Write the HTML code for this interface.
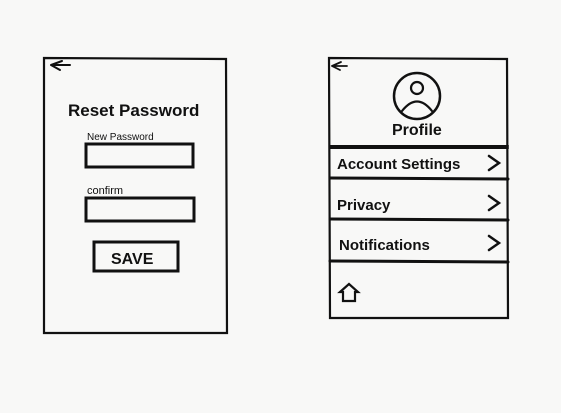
<!DOCTYPE html>
<html><head><style>
html,body{margin:0;padding:0;background:#f8f8f7;}
svg{display:block}
text{font-family:"Liberation Sans",sans-serif;fill:#111;}
</style></head><body>
<svg width="561" height="413" viewBox="0 0 561 413" xmlns="http://www.w3.org/2000/svg">
<rect width="561" height="413" fill="#f8f8f7"/>
<g stroke="#111" fill="none" stroke-linecap="round">
<path d="M44 58 L226 59 L227 333 L44 333 Z" stroke-width="2.2"/>
<path d="M51 65 L62 61 M51 65 L60 70 M51 65 L70 65" stroke-width="2"/>
<rect x="86" y="144" width="107" height="23" stroke-width="3"/>
<rect x="86" y="198" width="108" height="23" stroke-width="3"/>
<rect x="94" y="242" width="84" height="29" stroke-width="3"/>
<path d="M329 58 L507 59 L508 318 L330 318 Z" stroke-width="2.2"/>
<path d="M332 66 L341 62 M332 66 L340 70 M332 66 L347 66" stroke-width="1.8"/>
<circle cx="417" cy="96" r="23" stroke-width="2.5"/>
<circle cx="417" cy="88" r="6" stroke-width="2.2"/>
<path d="M402 111 Q417 92 432 111" stroke-width="2.2"/>
<path d="M330 146 L508 146 M330 148 L508 148" stroke-width="2"/>
<path d="M330 178 L508 179" stroke-width="3"/>
<path d="M330 219 L508 220" stroke-width="3"/>
<path d="M330 261 L508 262" stroke-width="3"/>
<path d="M489 156 L499 163 L489 170" stroke-width="2.5"/>
<path d="M489 196 L499 203 L489 210" stroke-width="2.5"/>
<path d="M489 236 L499 243 L489 250" stroke-width="2.5"/>
<path d="M340 292 L349 284 L358 292 L355 292 L355 301 L343 301 L343 292 Z" stroke-width="2.2"/>
</g>
<text x="68" y="116" font-size="17" font-weight="bold">Reset Password</text>
<text x="87" y="140" font-size="10">New Password</text>
<text x="87" y="194" font-size="11">confirm</text>
<text x="111" y="264" font-size="16" font-weight="bold">SAVE</text>
<text x="392" y="135" font-size="16" font-weight="bold">Profile</text>
<text x="337" y="169" font-size="15" font-weight="bold">Account Settings</text>
<text x="337" y="210" font-size="15" font-weight="bold">Privacy</text>
<text x="339" y="250" font-size="15" font-weight="bold">Notifications</text>
</svg>
</body></html>
